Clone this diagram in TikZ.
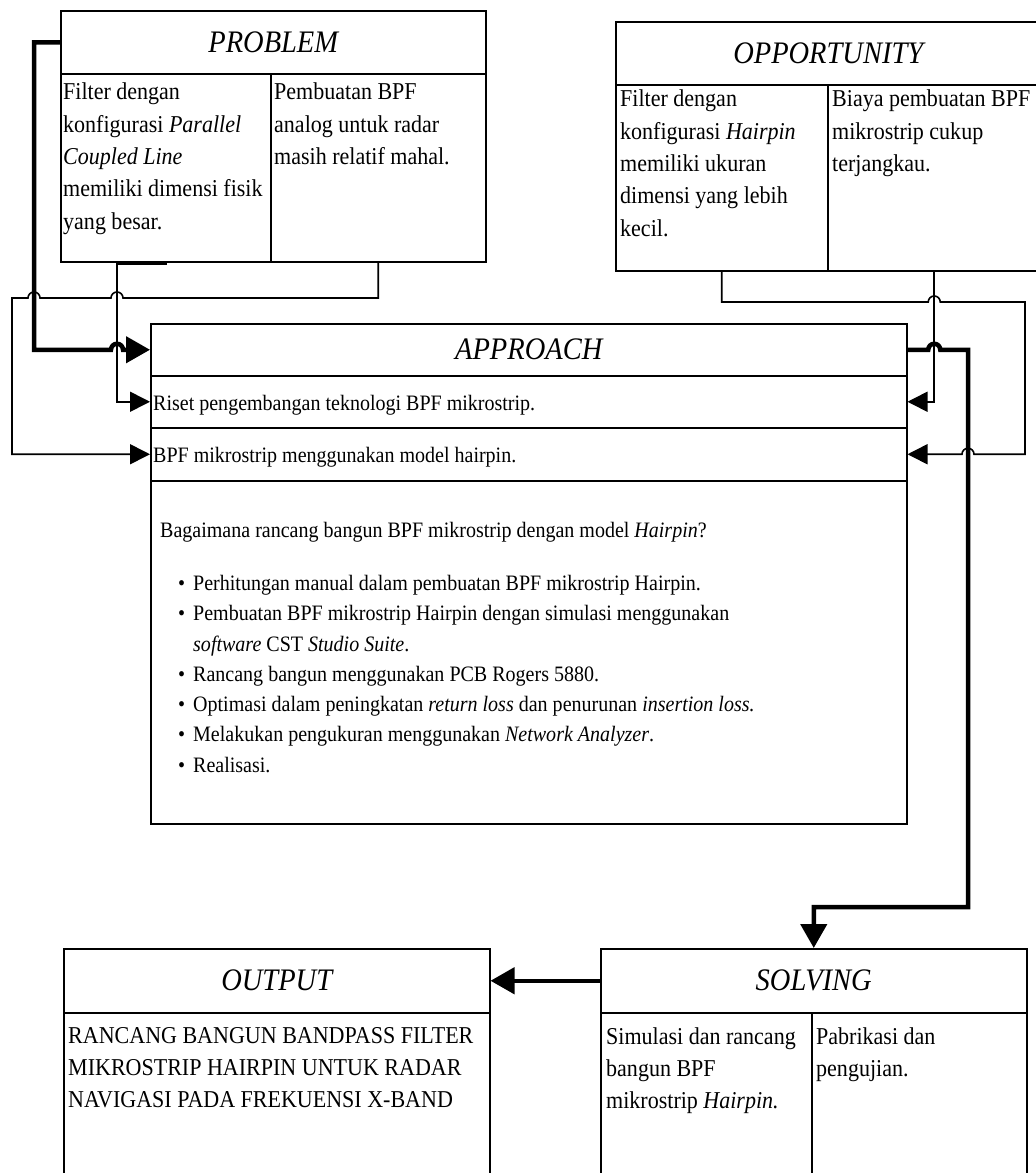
\documentclass[tikz,border=0pt]{standalone}
\usepackage{fontspec}
\setmainfont[FakeStretch=0.91]{Liberation Serif}
\usetikzlibrary{arrows.meta,calc}

\tikzset{
  cell/.style={draw, line width=1.5pt, inner sep=0pt, anchor=north west},
  headtext/.style={font=\fontsize{31.3}{36}\selectfont\itshape},
  boxtext/.style={font=\fontsize{24.2}{32.3}\selectfont, align=left, inner sep=0pt, anchor=north west},
  apptext/.style={font=\fontsize{22}{30.3}\selectfont, align=left, inner sep=0pt},
  feed/.style={line width=1.6pt, -{Triangle[length=20pt,width=20pt]}},
  mainfeed/.style={line width=4.5pt, -{Triangle[length=24pt,width=26pt]}},
}

\begin{document}
\begin{tikzpicture}[x=1pt,y=-1pt]
\useasboundingbox (0,0) rectangle (1036,1173);

% PROBLEM
\node[cell, headtext, minimum width=425pt, minimum height=63pt] (probHead) at (60,10) {PROBLEM};
\node[cell, minimum width=210pt, minimum height=188pt] (probL) at (60,73) {};
\node[cell, minimum width=215pt, minimum height=188pt] (probR) at (270,73) {};
\node[boxtext] (probLtext) at (63,83) {Filter dengan\\konfigurasi \textit{Parallel}\\\textit{Coupled Line}\\memiliki dimensi fisik\\yang besar.};
\node[boxtext] (probRtext) at (274,83) {Pembuatan BPF\\analog untuk radar\\masih relatif mahal.};

% OPPORTUNITY
\node[cell, headtext, minimum width=425pt, minimum height=63pt] (oppHead) at (615,21) {OPPORTUNITY};
\node[cell, minimum width=212pt, minimum height=186pt] (oppL) at (615,84) {};
\node[cell, minimum width=213pt, minimum height=186pt] (oppR) at (827,84) {};
\node[boxtext] (oppLtext) at (620,90) {Filter dengan\\konfigurasi \textit{Hairpin}\\memiliki ukuran\\dimensi yang lebih\\kecil.};
\node[boxtext] (oppRtext) at (832,90) {Biaya pembuatan BPF\\mikrostrip cukup\\terjangkau.};

% APPROACH
\node[cell, headtext, minimum width=756pt, minimum height=52pt] (appHead) at (150,323) {APPROACH};
\node[cell, minimum width=756pt, minimum height=52pt] (appR1) at (150,375) {};
\node[cell, minimum width=756pt, minimum height=53pt] (appR2) at (150,427) {};
\node[cell, minimum width=756pt, minimum height=343pt] (appBody) at (150,480) {};
\node[apptext, anchor=base west] (appR1text) at (153,410) {Riset pengembangan teknologi BPF mikrostrip.};
\node[apptext, anchor=base west] (appR2text) at (153,462) {BPF mikrostrip menggunakan model hairpin.};
\node[apptext, anchor=base west] (appQ) at (160,537) {Bagaimana rancang bangun BPF mikrostrip dengan model \textit{Hairpin}?};
\node[apptext, anchor=north west] (appList) at (178,575) {%
\makebox[15pt][l]{\textbullet}Perhitungan manual dalam pembuatan BPF mikrostrip Hairpin.\\
\makebox[15pt][l]{\textbullet}Pembuatan BPF mikrostrip Hairpin dengan simulasi menggunakan\\
\hspace*{15pt}\textit{software} CST \textit{Studio Suite}.\\
\makebox[15pt][l]{\textbullet}Rancang bangun menggunakan PCB Rogers 5880.\\
\makebox[15pt][l]{\textbullet}Optimasi dalam peningkatan \textit{return loss} dan penurunan \textit{insertion loss.}\\
\makebox[15pt][l]{\textbullet}Melakukan pengukuran menggunakan \textit{Network Analyzer}.\\
\makebox[15pt][l]{\textbullet}Realisasi.};

% SOLVING
\node[cell, headtext, minimum width=426pt, minimum height=64pt] (solHead) at (600,948) {SOLVING};
\node[cell, minimum width=211pt, minimum height=180pt] (solL) at (600,1012) {};
\node[cell, minimum width=215pt, minimum height=180pt] (solR) at (811,1012) {};
\node[boxtext] (solLtext) at (606,1027) {Simulasi dan rancang\\bangun BPF\\mikrostrip \textit{Hairpin.}};
\node[boxtext] (solRtext) at (816,1027) {Pabrikasi dan\\pengujian.};

% OUTPUT
\node[cell, headtext, minimum width=426pt, minimum height=64pt] (outHead) at (63,948) {OUTPUT};
\node[cell, minimum width=426pt, minimum height=180pt] (outBody) at (63,1012) {};
\node[boxtext] (outText) at (68,1027) {RANCANG BANGUN BANDPASS FILTER\\MIKROSTRIP HAIRPIN UNTUK RADAR\\NAVIGASI PADA FREKUENSI X-BAND};

% lanes
\coordinate (laneA) at (34,0);
\coordinate (laneC) at (12,0);
\coordinate (kneeP) at (117,264);
\coordinate (rowP) at (0,298);
\coordinate (rowO) at (0,302);
\coordinate (laneE) at (968,0);
\coordinate (laneF) at (1025,0);
\coordinate (kneeS) at (968,907);

% left feeds
\draw[mainfeed] (probHead.west) -| (laneA |- appHead.west) -- ($(kneeP |- appHead.west)+(-6,0)$) arc[start angle=180,end angle=0,radius=6pt] -- (appHead.west);
\draw[feed] (probL.south) |- (kneeP) |- (appR1.west);
\draw[feed] (probR.south) |- ($(kneeP |- rowP)+(6,0)$) arc[start angle=0,end angle=180,radius=6pt] -- ($(laneA |- rowP)+(6,0)$) arc[start angle=0,end angle=180,radius=6pt] -- (laneC |- rowP) |- (appR2.west);

% right feeds
\draw[feed] (oppL.south) |- ($(oppR.south |- rowO)+(-6,0)$) arc[start angle=180,end angle=0,radius=6pt] -- (laneF |- rowO) -- (laneF |- appR2.east) -- ($(laneE |- appR2.east)+(6,0)$) arc[start angle=0,end angle=180,radius=6pt] -- (appR2.east);
\draw[feed] (oppR.south) |- (appR1.east);

% to solving and output
\draw[mainfeed] (appHead.east) -- ($(oppR.south |- appHead.east)+(-6,0)$) arc[start angle=180,end angle=0,radius=6pt] -- (laneE |- appHead.east) -- (kneeS) -| (solHead.north);
\draw[mainfeed] (solHead.west) -- (outHead.east);
\end{tikzpicture}
\end{document}
